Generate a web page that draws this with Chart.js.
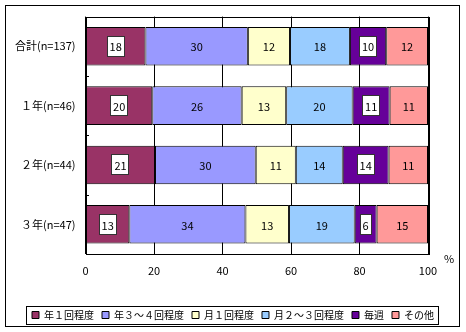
<!DOCTYPE html>
<html>
<head>
<meta charset="utf-8">
<script src="https://cdn.jsdelivr.net/npm/chart.js@4/dist/chart.umd.min.js"></script>
<style>
  html, body { margin: 0; padding: 0; background: #fff; }
  #wrap { width: 466px; height: 332px; }
</style>
</head>
<body>
<div id="wrap"><canvas id="chart" width="466" height="332"></canvas></div>
<script>
const categories = ["合計(n=137)", "１年(n=46)", "２年(n=44)", "３年(n=47)"];
const seriesNames = ["年１回程度", "年３～４回程度", "月１回程度", "月２～３回程度", "毎週", "その他"];
const seriesColors = ["#993366", "#9999FF", "#FFFFCC", "#99CCFF", "#660099", "#FF9999"];

// bar lengths (%)
const onceYear = [17.5, 19.5, 20.3, 12.8];
const threeFourYear = [29.9, 26.1, 29.4, 33.9];
const onceMonth = [12.3, 13.0, 11.7, 12.7];
const twoThreeMonth = [17.5, 19.4, 13.7, 19.2];
const weekly = [10.6, 10.8, 13.4, 6.4];
const other = [12.2, 11.2, 11.5, 15.0];

// printed labels
const onceYearLbl = [18, 20, 21, 13];
const threeFourYearLbl = [30, 26, 30, 34];
const onceMonthLbl = [12, 13, 11, 13];
const twoThreeMonthLbl = [18, 20, 14, 19];
const weeklyLbl = [10, 11, 14, 6];
const otherLbl = [12, 11, 11, 15];

const xTicks = [0, 20, 40, 60, 80, 100];

const values = [onceYear, threeFourYear, onceMonth, twoThreeMonth, weekly, other];
const labels = [onceYearLbl, threeFourYearLbl, onceMonthLbl, twoThreeMonthLbl, weeklyLbl, otherLbl];
const boxed = [true, false, false, false, true, false];

const FONT = "'Noto Sans CJK JP', 'DejaVu Sans', sans-serif";

const framePlugin = {
  id: "frame",
  afterDatasetsDraw(chart) {
    const ctx = chart.ctx;
    const a = chart.chartArea;
    ctx.save();
    ctx.strokeStyle = "#000";
    ctx.lineWidth = 1;
    ctx.strokeRect(Math.round(a.left) + 0.5, Math.round(a.top) + 0.5,
      Math.round(a.right - a.left), Math.round(a.bottom - a.top));

    // small inner ticks between categories
    const ys = chart.scales.y;
    for (let i = 1; i < categories.length; i++) {
      const y = Math.round((ys.getPixelForTick(i - 1) + ys.getPixelForTick(i)) / 2) + 0.5;
      ctx.beginPath();
      ctx.moveTo(Math.round(a.left), y);
      ctx.lineTo(Math.round(a.left) + 3, y);
      ctx.stroke();
    }

    // value labels
    ctx.font = "11px " + FONT;
    ctx.textAlign = "center";
    ctx.textBaseline = "middle";
    chart.data.datasets.forEach((ds, di) => {
      chart.getDatasetMeta(di).data.forEach((bar, i) => {
        const cx = (bar.x + bar.base) / 2;
        const cy = bar.y;
        const txt = String(labels[di][i]);
        if (boxed[di]) {
          const w = ctx.measureText(txt).width + 6;
          const h = 21;
          ctx.fillStyle = "#fff";
          ctx.fillRect(Math.round(cx - w / 2), Math.round(cy - h / 2), Math.round(w), h);
          ctx.strokeStyle = "#333";
          ctx.strokeRect(Math.round(cx - w / 2) + 0.5, Math.round(cy - h / 2) + 0.5, Math.round(w) - 1, h - 1);
        }
        ctx.fillStyle = "#000";
        ctx.fillText(txt, cx, cy + 1);
      });
    });

    // "%" unit
    ctx.textAlign = "left";
    ctx.fillText("%", 444, 259);

    // outer frame
    ctx.strokeStyle = "#000";
    ctx.strokeRect(5.5, 5.5, 454, 321);

    // legend frame
    const lg = chart.legend;
    if (lg && lg.legendHitBoxes.length) {
      const hb = lg.legendHitBoxes;
      const l = hb[0].left - 6;
      const last = hb[hb.length - 1];
      const r = last.left + last.width + 4;
      const t = hb[0].top + hb[0].height / 2 - 9;
      ctx.strokeRect(Math.round(l) + 0.5, Math.round(t) + 0.5, Math.round(r - l), 18);
    }
    ctx.restore();
  }
};

new Chart(document.getElementById("chart"), {
  type: "bar",
  data: {
    labels: categories,
    datasets: values.map((v, i) => ({
      label: seriesNames[i],
      data: v,
      backgroundColor: seriesColors[i],
      borderColor: "#000",
      borderWidth: 1,
      borderSkipped: false,
      categoryPercentage: 1,
      barPercentage: 0.65,
    })),
  },
  options: {
    indexAxis: "y",
    responsive: false,
    animation: false,
    devicePixelRatio: 1,
    layout: { padding: { left: 0, right: 0, top: 14, bottom: 2 } },
    plugins: {
      tooltip: { enabled: false },
      legend: {
        position: "bottom",
        labels: {
          boxWidth: 7,
          boxHeight: 7,
          padding: 8,
          color: "#000",
          font: { family: FONT, size: 10 },
        },
      },
    },
    scales: {
      x: {
        stacked: true,
        min: 0,
        max: 100,
        afterBuildTicks(scale) { scale.ticks = xTicks.map((v) => ({ value: v })); },
        afterFit(scale) { scale.height = 48; },
        grid: { color: "#000", lineWidth: 1, drawTicks: false },
        border: { display: false },
        ticks: { color: "#000", padding: 10, font: { family: FONT, size: 11 } },
      },
      y: {
        stacked: true,
        afterFit(scale) { scale.width = 85.5; },
        grid: { display: false, drawTicks: false },
        border: { display: false },
        ticks: { color: "#000", padding: 10, font: { family: FONT, size: 11 } },
      },
      yr: {
        type: "linear",
        position: "right",
        afterFit(scale) { scale.width = 38; },
        grid: { display: false, drawTicks: false },
        border: { display: false },
        ticks: { display: false },
      },
    },
  },
  plugins: [framePlugin],
});
</script>
</body>
</html>
